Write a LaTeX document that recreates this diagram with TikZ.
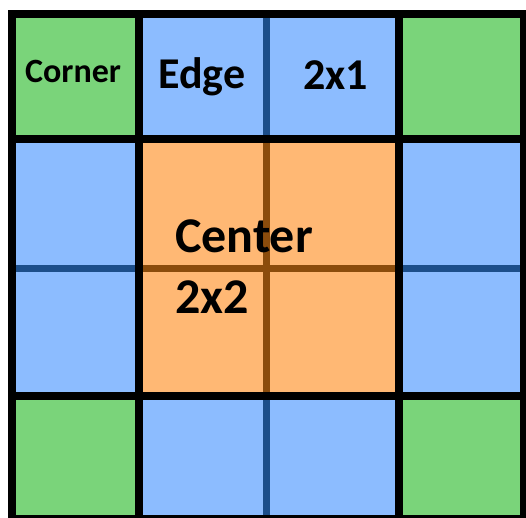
\documentclass[tikz,border=0pt]{standalone}
\usepackage{fontspec}
\setmainfont{Carlito}
\definecolor{cellgreen}{HTML}{7AD47A}
\definecolor{cellblue}{HTML}{8CBCFF}
\definecolor{cellorange}{HTML}{FFB874}
\definecolor{lineblue}{HTML}{1C4E8A}
\definecolor{linebrown}{HTML}{8B4C0C}
\begin{document}
\begin{tikzpicture}[
    x=1pt, y=-1pt,
    grid/.style={line width=8.5pt, black},
    split/.style={line width=7pt},
    lbl/.style={anchor=base west, inner sep=0pt, font=\bfseries}
]
\useasboundingbox (0,0) rectangle (526,517);

% cells
\fill[cellblue] (12,14) rectangle (524,519);
\fill[cellorange] (139,139) rectangle (399,396);
\fill[cellgreen] (12,14) rectangle (139,139);
\fill[cellgreen] (399,14) rectangle (524,139);
\fill[cellgreen] (12,396) rectangle (139,519);
\fill[cellgreen] (399,396) rectangle (524,519);

% thin splits inside edge and center blocks
\draw[split, lineblue] (266,14) -- (266,139);
\draw[split, lineblue] (266,396) -- (266,519);
\draw[split, lineblue] (12,268) -- (139,268);
\draw[split, lineblue] (399,268) -- (524,268);
\draw[split, linebrown] (266,139) -- (266,396);
\draw[split, linebrown] (139,268) -- (399,268);

% black grid
\draw[grid] (139,14) -- (139,519);
\draw[grid] (399,14) -- (399,519);
\draw[grid] (12,139) -- (524,139);
\draw[grid] (12,396) -- (524,396);
\draw[grid] (12,14) rectangle (524,519);

% labels
\node[lbl, font=\bfseries\fontsize{34}{34}\selectfont] (corner) at (25,82) {Corner};
\node[lbl, font=\bfseries\fontsize{44}{44}\selectfont] (edge) at (158,88) {Edge};
\node[lbl, font=\bfseries\fontsize{44}{44}\selectfont] (edgesize) at (303,89) {2x1};
\node[lbl, font=\bfseries\fontsize{50}{50}\selectfont] (center) at (175,252) {Center};
\node[lbl, font=\bfseries\fontsize{50}{50}\selectfont] (centersize) at (175,313) {2x2};
\end{tikzpicture}
\end{document}
